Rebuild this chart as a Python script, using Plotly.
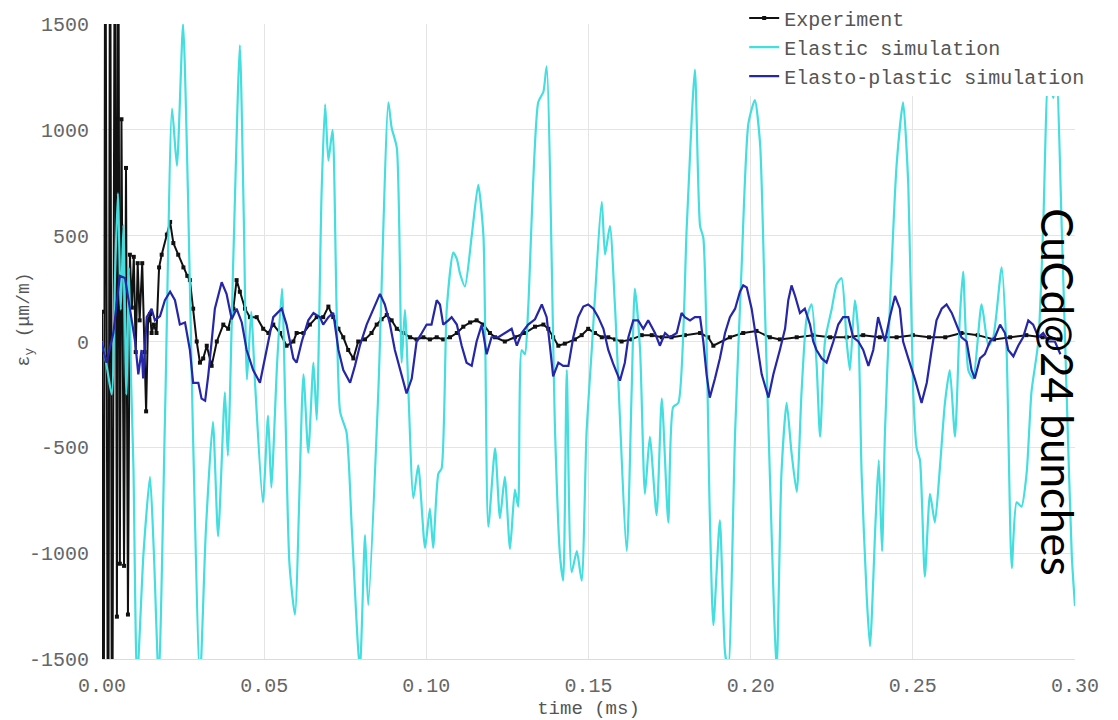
import plotly.graph_objects as go

# ---------------- data ----------------
exp_t = [0.0000, 0.0005, 0.0010, 0.0019, 0.0025, 0.0031, 0.0040, 0.0046, 0.0050,
         0.0055, 0.0060, 0.0068, 0.0074, 0.0080, 0.0086, 0.0092, 0.0098,
         0.0104, 0.0110, 0.0116, 0.0124, 0.0131, 0.0136, 0.0142, 0.0148, 0.0153, 0.0160,
         0.0168, 0.0176, 0.0184, 0.0200, 0.0210, 0.0220, 0.0235, 0.0251, 0.0263, 0.0271,
         0.0281, 0.0292, 0.0302, 0.0312, 0.0323, 0.0338, 0.0354, 0.0374, 0.0389, 0.0405,
         0.0415, 0.0425, 0.0441, 0.0456, 0.0477, 0.0497, 0.0513, 0.0528, 0.0549, 0.0569,
         0.0590, 0.0600, 0.0621, 0.0641, 0.0662, 0.0682, 0.0698, 0.0713, 0.0729, 0.0744,
         0.0759, 0.0775, 0.0790, 0.0811, 0.0831, 0.0847, 0.0862, 0.0878, 0.0893, 0.0909,
         0.0929, 0.0950, 0.0970, 0.0991, 0.1011, 0.1032, 0.1052, 0.1073, 0.1094, 0.1114,
         0.1135, 0.1155, 0.1176, 0.1196, 0.1212, 0.1242, 0.1273, 0.1304, 0.1335, 0.1361,
         0.1376, 0.1391, 0.1407, 0.1427, 0.1458, 0.1479, 0.1499, 0.1520, 0.1541, 0.1561,
         0.1582, 0.1602, 0.1633, 0.1664, 0.1695, 0.1726, 0.1756, 0.1797, 0.1844, 0.1869,
         0.1885, 0.1936, 0.1977, 0.2018, 0.2059, 0.2090, 0.2142, 0.2193, 0.2245, 0.2296,
         0.2347, 0.2398, 0.2450, 0.2500, 0.2550, 0.2600, 0.2650, 0.2700, 0.2750, 0.2800,
         0.2850, 0.2900, 0.2950]
exp_v = [140, -2500, 2500, -2500, 2500, -2500, 2500, -1300, 2500,
         -1050, 1050, -1060, 820, -1290, 410, 160, 400, -50,
         370, 100, 370, -50, -330, 100, 130, 40, 80, 40,
         350, 410, 505, 565, 465, 410, 350, 310, 290, 155,
         0, -100, -80, -20, -115, 0, 80, 60, 155, 290,
         235, 155, 115, 115, 60, 40, 80, 40, -20, 0,
         40, 40, 80, 115, 115, 165, 115, 60, 20, -40,
         -80, 0, 10, 40, 80, 105, 125, 100, 60, 40,
         20, 10, 20, 10, 20, 10, 20, 40, 70, 90,
         100, 80, 40, 20, 0, 20, 40, 70, 80, 60,
         20, -20, -10, 10, 30, 60, 40, 20, 20, 10,
         0, 10, 30, 30, 20, 20, 30, 40, 20, -20,
         20, 40, 50, 20, 10, 20, 30, 20, 20, 30,
         20, 20, 30, 20, 20, 40, 30, 10, 20, 30,
         20, 10, 20]

ela_t = [0.0000, 0.0015, 0.0030, 0.0040, 0.0049, 0.0058, 0.0066, 0.0075, 0.0083, 0.0090,
         0.0097, 0.0108, 0.0128, 0.0148, 0.0160, 0.0175, 0.0195, 0.0216, 0.0231, 0.0250,
         0.0265, 0.0280, 0.0302, 0.0320, 0.0342, 0.0358, 0.0379, 0.0388, 0.0405, 0.0425,
         0.0437, 0.0447, 0.0460, 0.0472, 0.0496, 0.0512, 0.0522, 0.0540, 0.0555, 0.0565,
         0.0578, 0.0595, 0.0621, 0.0636, 0.0652, 0.0662, 0.0677, 0.0688, 0.0698, 0.0711,
         0.0734, 0.0754, 0.0770, 0.0795, 0.0811, 0.0821, 0.0852, 0.0883, 0.0893, 0.0909,
         0.0924, 0.0934, 0.0960, 0.0975, 0.0996, 0.1011, 0.1021, 0.1037, 0.1047, 0.1063,
         0.1083, 0.1094, 0.1104, 0.1119, 0.1140, 0.1160, 0.1176, 0.1191, 0.1212, 0.1227,
         0.1242, 0.1258, 0.1273, 0.1283, 0.1294, 0.1304, 0.1314, 0.1345, 0.1361, 0.1371,
         0.1397, 0.1412, 0.1422, 0.1433, 0.1448, 0.1464, 0.1479, 0.1494, 0.1510, 0.1541,
         0.1551, 0.1566, 0.1582, 0.1618, 0.1633, 0.1643, 0.1659, 0.1674, 0.1689, 0.1710,
         0.1726, 0.1746, 0.1761, 0.1777, 0.1803, 0.1828, 0.1844, 0.1854, 0.1874, 0.1885,
         0.1905, 0.1921, 0.1931, 0.1952, 0.1972, 0.1993, 0.2013, 0.2029, 0.2044, 0.2059,
         0.2080, 0.2095, 0.2111, 0.2126, 0.2142, 0.2157, 0.2173, 0.2188, 0.2203, 0.2214,
         0.2229, 0.2250, 0.2265, 0.2280, 0.2296, 0.2306, 0.2321, 0.2332, 0.2342, 0.2358,
         0.2368, 0.2385, 0.2395, 0.2405, 0.2414, 0.2429, 0.2450, 0.2470, 0.2486, 0.2501,
         0.2512, 0.2522, 0.2537, 0.2553, 0.2568, 0.2584, 0.2599, 0.2614, 0.2630, 0.2645,
         0.2655, 0.2671, 0.2686, 0.2712, 0.2733, 0.2748, 0.2774, 0.2789, 0.2805, 0.2820,
         0.2835, 0.2851, 0.2866, 0.2887, 0.2902, 0.2918, 0.2933, 0.2943, 0.2959, 0.2974,
         0.2990, 0.3000]
ela_v = [0, -120, -250, 300, 700, 150, 550, -250, 350, -200,
         -600, -1600, -1000, -640, -1000, -1600, -300, 1100, 830, 1500,
         700, -400, -1600, -900, -380, -920, -240, -540, 400, 1400,
         600, -180, 140, -200, -760, -350, -690, -100, 250, -300,
         -1050, -1290, -155, -525, -100, -370, 700, 1120, 855, 1000,
         -330, -430, -875, -1550, -915, -1245, -235, 1130, 1010, 915,
         -100, 150, -740, -585, -975, -790, -975, -625, -600, 155,
         420, 390, 320, 260, 500, 740, 500, -875, -505, -835,
         -640, -980, -700, -780, -40, -60, 155, 1130, 1180, 1300,
         -430, -1010, -1130, -135, -1090, -990, -1130, -430, -40, 660,
         410, 545, 155, -990, -235, 250, -40, -720, -450, -820,
         -270, -855, -310, -290, 545, 1285, 545, 490, -820, -1340,
         -845, -1470, -1550, -430, 350, 1030, 1140, 935, 155, -620,
         -1550, -620, -290, -525, -710, -235, 115, 175, -100, -450,
         0, 155, 270, 300, 0, -135, 195, 40, -620, -1210,
         -1440, -850, -560, -990, -430, 155, 835, 1130, 740, -235,
         -505, -560, -1110, -720, -855, -585, -290, -135, -450, 115,
         330, -135, -175, 175, -20, 20, 350, -40, -1070, -760,
         -780, -620, -235, 0, 545, 1250, 1150, 1250, 545, -235,
         -1010, -1250]

pla_t = [0.0000, 0.0004, 0.0014, 0.0035, 0.0055, 0.0071, 0.0086, 0.0102, 0.0112, 0.0122,
         0.0127, 0.0138, 0.0153, 0.0163, 0.0179, 0.0194, 0.0210, 0.0225, 0.0240, 0.0256,
         0.0271, 0.0281, 0.0297, 0.0307, 0.0318, 0.0328, 0.0348, 0.0369, 0.0384, 0.0400,
         0.0415, 0.0431, 0.0446, 0.0466, 0.0487, 0.0508, 0.0528, 0.0554, 0.0569, 0.0590,
         0.0600, 0.0616, 0.0636, 0.0652, 0.0672, 0.0682, 0.0698, 0.0713, 0.0729, 0.0744,
         0.0765, 0.0780, 0.0795, 0.0816, 0.0836, 0.0857, 0.0872, 0.0888, 0.0903, 0.0919,
         0.0939, 0.0955, 0.0970, 0.0986, 0.1001, 0.1016, 0.1032, 0.1042, 0.1052, 0.1068,
         0.1078, 0.1094, 0.1109, 0.1124, 0.1140, 0.1155, 0.1171, 0.1186, 0.1201, 0.1222,
         0.1242, 0.1263, 0.1279, 0.1294, 0.1314, 0.1335, 0.1356, 0.1371, 0.1381, 0.1391,
         0.1407, 0.1422, 0.1438, 0.1453, 0.1468, 0.1484, 0.1499, 0.1515, 0.1530, 0.1546,
         0.1561, 0.1576, 0.1597, 0.1612, 0.1623, 0.1638, 0.1653, 0.1669, 0.1684, 0.1705,
         0.1720, 0.1736, 0.1751, 0.1772, 0.1787, 0.1797, 0.1813, 0.1828, 0.1844, 0.1854,
         0.1864, 0.1874, 0.1890, 0.1905, 0.1921, 0.1936, 0.1952, 0.1967, 0.1977, 0.1988,
         0.2003, 0.2018, 0.2034, 0.2055, 0.2070, 0.2090, 0.2106, 0.2116, 0.2126, 0.2137,
         0.2152, 0.2167, 0.2183, 0.2193, 0.2203, 0.2219, 0.2234, 0.2255, 0.2270, 0.2285,
         0.2301, 0.2316, 0.2332, 0.2347, 0.2363, 0.2378, 0.2393, 0.2403, 0.2414, 0.2429,
         0.2445, 0.2460, 0.2470, 0.2486, 0.2506, 0.2527, 0.2543, 0.2558, 0.2573, 0.2589,
         0.2604, 0.2620, 0.2635, 0.2650, 0.2666, 0.2681, 0.2691, 0.2707, 0.2722, 0.2738,
         0.2753, 0.2769, 0.2784, 0.2794, 0.2810, 0.2825, 0.2840, 0.2856, 0.2871, 0.2887,
         0.2902, 0.2918, 0.2938, 0.2955]
pla_v = [0, -40, -100, 40, 310, 300, 155, 0, -155, -40,
         -175, 115, 155, 100, 120, 195, 235, 195, 80, 90,
         -40, -195, -195, -270, -280, -155, 155, 280, 225, 105,
         155, 90, -40, -135, -195, -40, 115, 155, 80, -80,
         -100, 0, 100, 135, 115, 80, 115, 135, -40, -135,
         -195, -115, -20, 80, 155, 225, 175, 80, -40, -135,
         -245, -175, 0, 40, 80, 80, 195, 175, 80, 100,
         115, 80, -20, -100, -115, 0, 80, -60, 20, 20,
         40, 60, -20, 40, 80, 105, 175, 115, -20, -165,
         -100, -115, -115, 20, 115, 165, 175, 155, 115, 60,
         -40, -105, -185, -100, 20, 100, 100, 60, 100, 40,
         -20, 40, 20, 40, 135, 115, 100, 115, 115, 0,
         -155, -265, -175, -80, 40, 115, 155, 235, 265, 255,
         155, 0, -155, -265, -155, -40, 60, 195, 265, 215,
         135, 155, 80, 0, -40, -80, -100, 0, 80, 115,
         115, 20, 0, -40, -115, -40, 115, 60, 0, 115,
         215, 155, 0, -80, -175, -290, -195, -40, 100, 155,
         175, 135, 80, 20, 0, -135, -175, -80, -60, 0,
         20, 80, 40, -40, -70, -20, 20, 100, 80, 20,
         40, 0, 0, -60]

x_ticks = [0.00, 0.05, 0.10, 0.15, 0.20, 0.25, 0.30]
x_ticktext = ["0.00", "0.05", "0.10", "0.15", "0.20", "0.25", "0.30"]
y_ticks = [-1500, -1000, -500, 0, 500, 1000, 1500]
y_ticktext = ["-1500", "-1000", "-500", "0", "500", "1000", "1500"]

MONO = "Liberation Mono, Courier New, monospace"

fig = go.Figure()
fig.add_trace(go.Scatter(
    x=exp_t, y=exp_v, name="Experiment", mode="lines+markers",
    line=dict(color="#111111", width=2),
    marker=dict(color="#111111", size=4, symbol="square"),
))
fig.add_trace(go.Scatter(
    x=ela_t, y=ela_v, name="Elastic simulation", mode="lines",
    line=dict(color="#44dede", width=2.2, shape="spline", smoothing=0.6),
))
fig.add_trace(go.Scatter(
    x=pla_t, y=pla_v, name="Elasto-plastic simulation", mode="lines",
    line=dict(color="#2626a8", width=2.2),
))

fig.update_layout(
    width=1118, height=720,
    margin=dict(l=94, r=51, t=16, b=69, autoexpand=False),
    paper_bgcolor="white", plot_bgcolor="white",
    font=dict(family=MONO, size=20, color="#666666"),
    showlegend=True,
    legend=dict(
        x=0.660, y=1.04, xanchor="left", yanchor="top",
        bgcolor="white", borderwidth=0,
        font=dict(family=MONO, size=20, color="#555555"),
        itemwidth=30, tracegroupgap=0,
    ),
    xaxis=dict(
        range=[0, 0.30], tickvals=x_ticks, ticktext=x_ticktext,
        showgrid=True, gridcolor="#e4e4e4", gridwidth=1,
        zeroline=False, showline=True, linecolor="#dcdcdc", linewidth=1,
        ticks="", automargin=False, ticklabelstandoff=8,
        tickfont=dict(family=MONO, size=20, color="#666666"),
        title=dict(text="time (ms)", font=dict(family=MONO, size=19, color="#555555"), standoff=0),
    ),
    yaxis=dict(
        range=[-1500, 1500], tickvals=y_ticks, ticktext=y_ticktext,
        showgrid=True, gridcolor="#e4e4e4", gridwidth=1,
        zeroline=False, showline=False,
        ticks="", ticklabelstandoff=12, automargin=False,
        tickfont=dict(family=MONO, size=20, color="#666666"),
    ),
)

# y-axis title placed as an annotation so its position matches the reference
fig.add_annotation(
    text="ε<sub>y</sub> (μm/m)", textangle=-90,
    xref="paper", yref="paper", x=-0.079, y=0.535,
    xanchor="center", yanchor="middle", showarrow=False,
    font=dict(family=MONO, size=18, color="#555555"),
)

fig.add_annotation(
    text="CuCd@24 bunches", textangle=90,
    xref="paper", yref="paper", x=0.9825, y=0.42,
    xanchor="center", yanchor="middle", showarrow=False,
    font=dict(family="Lato, Noto Sans, sans-serif", size=44, color="black"),
)

fig.write_html("out.html")
